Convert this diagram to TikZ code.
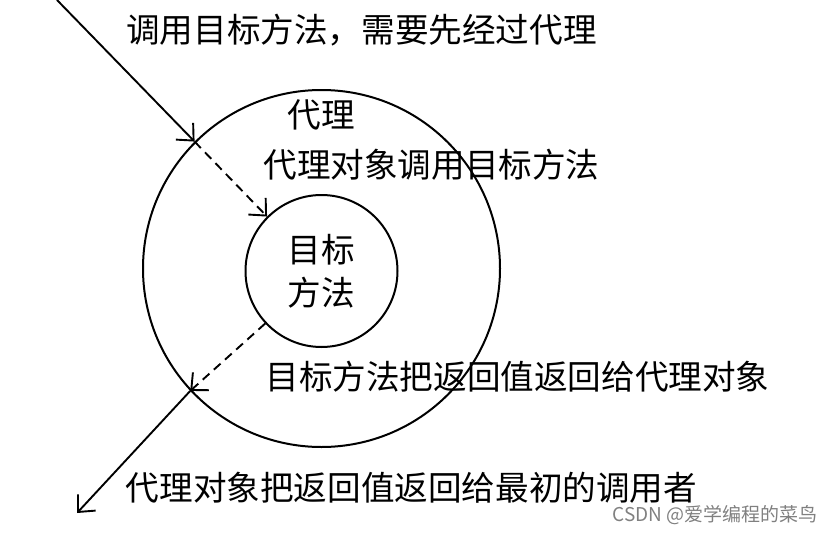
\documentclass[tikz,border=0pt]{standalone}
\usepackage{fontspec}
\setmainfont{Noto Sans CJK SC}
\usetikzlibrary{arrows.meta}
\begin{document}
\begin{tikzpicture}[x=1pt,y=-1pt,
  ring/.style={circle,draw,line width=2pt,inner sep=0pt},
  lbl/.style={inner sep=0pt,font=\fontsize{33.6}{40}\selectfont},
  flow/.style={line width=1.9pt,-{Straight Barb[length=13pt,width=24pt,line width=1.9pt]}},
  dflow/.style={flow,dash pattern=on 9pt off 6pt}]
\useasboundingbox (0,0) rectangle (836,533);
\node[ring,minimum size=357pt] (outer) at (321.5,268.5) {};
\node[ring,minimum size=152pt,align=center,font=\fontsize{33.6}{43}\selectfont] (inner) at (321.5,271) {目标\\方法};
\coordinate (start) at (57,0);
\coordinate (finish) at (77,513);
\draw[flow] (start) -- (outer.135);
\draw[dflow] (outer.135) -- (inner.135);
\draw[dflow] (inner.223) -- (outer.223);
\draw[flow] (outer.223) -- (finish);
\node[lbl] (t1) at (361.5,30) {调用目标方法，需要先经过代理};
\node[lbl] (t2) at (321.5,115) {代理};
\node[lbl] (t3) at (431.5,165) {代理对象调用目标方法};
\node[lbl] (t4) at (517.5,377) {目标方法把返回值返回给代理对象};
\node[lbl] (t5) at (411.5,488) {代理对象把返回值返回给最初的调用者};
\node[inner sep=0pt,text=gray,font=\fontsize{19}{22}\selectfont] (wm) at (715,515) {CSDN @爱学编程的菜鸟};
\end{tikzpicture}
\end{document}
